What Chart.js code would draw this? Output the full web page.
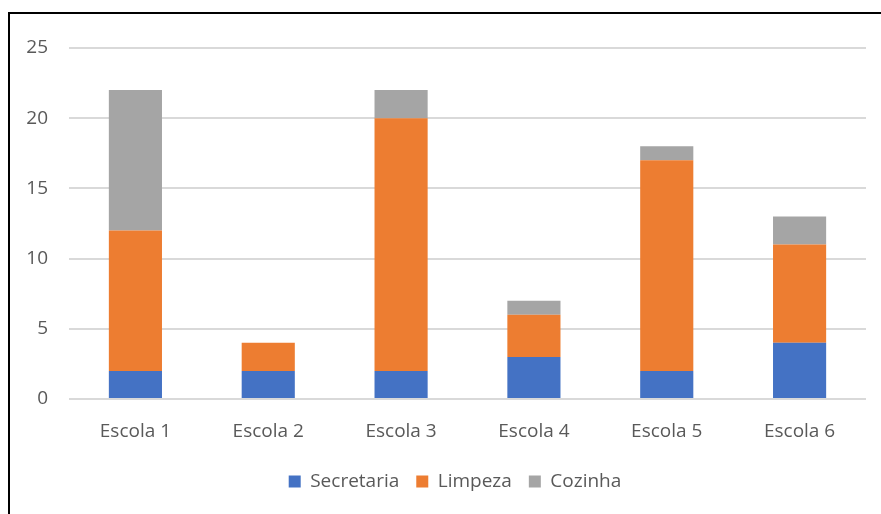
<!DOCTYPE html>
<html>
<head>
<meta charset="utf-8">
<script src="https://cdn.jsdelivr.net/npm/chart.js@4"></script>
<style>
  html, body { margin: 0; padding: 0; background: #fff; }
  #wrap { position: relative; width: 881px; height: 514px; overflow: hidden; }
  #frame { position: absolute; left: 8px; top: 12px; width: 900px; height: 520px;
           border-left: 2px solid #000; border-top: 2px solid #000; box-sizing: border-box; }
  canvas { position: absolute; left: 0; top: 0; }
</style>
</head>
<body>
<div id="wrap">
  <div id="frame"></div>
  <canvas id="chartEscolas" width="881" height="514"></canvas>
</div>
<script>
const escolas = ['Escola 1', 'Escola 2', 'Escola 3', 'Escola 4', 'Escola 5', 'Escola 6'];
const secretaria = [2, 2, 2, 3, 2, 4];
const limpeza = [10, 2, 18, 3, 15, 7];
const cozinha = [10, 0, 2, 1, 1, 2];
const ticksY = [0, 5, 10, 15, 20, 25];

const fonte = { family: '"Open Sans", "Noto Sans", sans-serif', size: 19 };
const corTexto = '#595959';

// nudge the legend a little to the right of the canvas centre
const legendaDeslocada = {
  id: 'legendaDeslocada',
  afterLayout(chart) {
    chart.legend.left += 17;
    chart.legend.right += 17;
  }
};

const chartEscolas = document.getElementById('chartEscolas');

new Chart(chartEscolas, {
  type: 'bar',
  data: {
    labels: escolas,
    datasets: [
      { label: 'Secretaria', data: secretaria, backgroundColor: '#4472C4' },
      { label: 'Limpeza', data: limpeza, backgroundColor: '#ED7D31' },
      { label: 'Cozinha', data: cozinha, backgroundColor: '#A5A5A5' }
    ]
  },
  plugins: [legendaDeslocada],
  options: {
    responsive: false,
    animation: false,
    datasets: { bar: { categoryPercentage: 0.4, barPercentage: 1 } },
    layout: { padding: { left: 10, right: 15, top: 48, bottom: 13 } },
    plugins: {
      tooltip: { enabled: false },
      legend: {
        position: 'bottom',
        labels: { boxWidth: 12, boxHeight: 12, padding: 17, color: corTexto, font: fonte }
      }
    },
    scales: {
      x: {
        stacked: true,
        grid: { display: false },
        border: { display: false },
        ticks: { color: corTexto, font: fonte, padding: 13 },
        afterFit: s => { s.height = 56; }
      },
      y: {
        stacked: true,
        min: 0,
        max: 25,
        afterBuildTicks: s => { s.ticks = ticksY.map(v => ({ value: v })); },
        grid: { color: '#D9D9D9', lineWidth: 2, drawTicks: false },
        border: { display: false },
        ticks: { color: corTexto, font: fonte, padding: 21 },
        afterFit: s => { s.width = 59; }
      }
    }
  }
});
</script>
</body>
</html>
